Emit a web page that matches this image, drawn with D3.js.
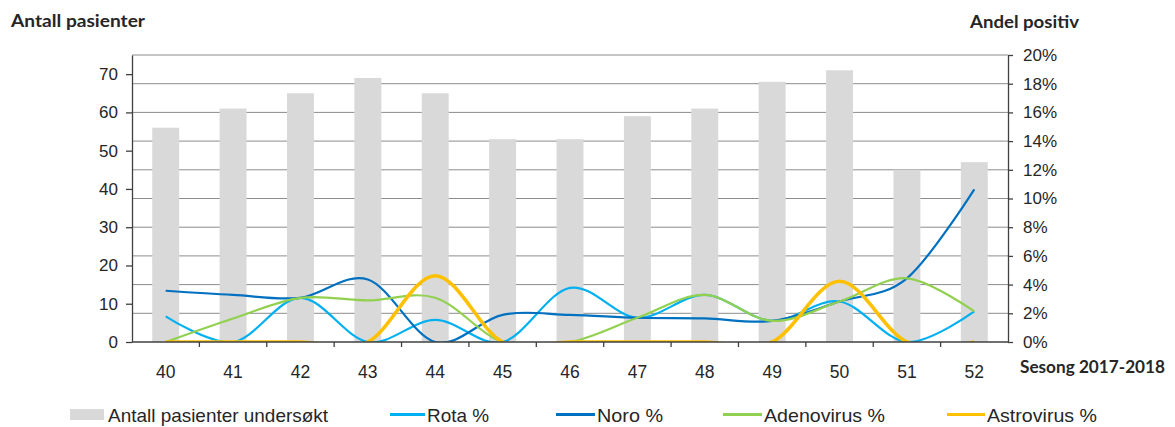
<!DOCTYPE html>
<html>
<head>
<meta charset="utf-8">
<script src="https://cdn.jsdelivr.net/npm/d3@7"></script>
<style>
  body { margin: 0; background: #fff; }
  svg text { font-family: "Liberation Sans", Arial, sans-serif; }
</style>
</head>
<body>
<div id="chart"></div>
<script>
// Data
const weeks = ["40", "41", "42", "43", "44", "45", "46", "47", "48", "49", "50", "51", "52"];
const patients = [56, 61, 65, 69, 65, 53, 53, 59, 61, 68, 71, 45, 47];
const rota = [1.79, 0, 3.08, 0, 1.54, 0, 3.77, 1.69, 3.28, 1.47, 2.82, 0, 2.13];
const noro = [3.57, 3.28, 3.08, 4.35, 0, 1.89, 1.89, 1.69, 1.64, 1.47, 2.82, 4.44, 10.64];
const adeno = [0, 1.64, 3.08, 2.90, 3.08, 0, 0, 1.69, 3.28, 1.47, 2.82, 4.44, 2.13];
const astro = [0, 0, 0, 0, 4.62, 0, 0, 0, 0, 0, 4.23, 0, 0];
const leftTicks = [0, 10, 20, 30, 40, 50, 60, 70];
const rightTicks = [0, 2, 4, 6, 8, 10, 12, 14, 16, 18, 20];

const series = [
    { name: "Rota %", values: rota, color: "#00B0F0", width: 2.2 },
    { name: "Noro %", values: noro, color: "#0070C0", width: 2.2 },
    { name: "Adenovirus %", values: adeno, color: "#92D050", width: 2.2 },
    { name: "Astrovirus %", values: astro, color: "#FFC000", width: 3.6 }
];

const margin = { top: 55, right: 167, bottom: 85, left: 132 };
const totalW = 1175, totalH = 427;
const width = totalW - margin.left - margin.right;
const height = totalH - margin.top - margin.bottom;

const svg = d3.select("#chart").append("svg")
    .attr("width", totalW)
    .attr("height", totalH);

const g = svg.append("g")
    .attr("transform", `translate(${margin.left},${margin.top})`);

const x = d3.scaleBand()
    .domain(weeks)
    .range([0, width])
    .paddingInner(0.6)
    .paddingOuter(0.3);

const yLeft = d3.scaleLinear().domain([0, 75]).range([height, 0]);
const yRight = d3.scaleLinear().domain([0, 20]).range([height, 0]);

// Gridlines (from right axis)
g.selectAll(".grid")
    .data(rightTicks.filter(d => d > 0))
    .enter().append("line")
    .attr("x1", 0).attr("x2", width)
    .attr("y1", d => yRight(d)).attr("y2", d => yRight(d))
    .attr("stroke", "#8c8c8c")
    .attr("stroke-width", 1);

// Bars
g.selectAll(".bar")
    .data(weeks)
    .enter().append("rect")
    .attr("x", d => x(d))
    .attr("y", (d, i) => yLeft(patients[i]))
    .attr("width", x.bandwidth())
    .attr("height", (d, i) => height - yLeft(patients[i]))
    .attr("fill", "#D9D9D9");

// Lines
g.append("clipPath").attr("id", "clip")
    .append("rect").attr("x", 0).attr("y", -5).attr("width", width).attr("height", height + 5);

const line = d3.line()
    .x((d, i) => x(weeks[i]) + x.bandwidth() / 2)
    .y(d => yRight(d))
    .curve(d3.curveCardinal.tension(0));

g.append("g").attr("clip-path", "url(#clip)")
    .selectAll(".line")
    .data(series)
    .enter().append("path")
    .attr("d", d => line(d.values))
    .attr("fill", "none")
    .attr("stroke", d => d.color)
    .attr("stroke-width", d => d.width);

// Axes
const axisColor = "#404040";
const leftAxis = g.append("g")
    .call(d3.axisLeft(yLeft).tickValues(leftTicks).tickSize(6).tickSizeOuter(0).tickPadding(8));
leftAxis.select(".domain").attr("stroke", axisColor).attr("stroke-width", 1.3);
leftAxis.selectAll(".tick line").attr("stroke", axisColor).attr("stroke-width", 1.3);
leftAxis.selectAll("text").style("font-size", "17px").attr("fill", "#262626");

const rightAxis = g.append("g")
    .attr("transform", `translate(${width},0)`)
    .call(d3.axisRight(yRight).tickValues(rightTicks).tickSize(5).tickSizeOuter(0).tickPadding(10)
        .tickFormat(d => d + "%"));
rightAxis.select(".domain").attr("stroke", axisColor).attr("stroke-width", 1.3);
rightAxis.selectAll(".tick line").attr("stroke", axisColor).attr("stroke-width", 1.3);
rightAxis.selectAll("text").style("font-size", "17px").attr("fill", "#262626");

// x axis: labels centered, ticks between categories
const bottomAxis = g.append("g")
    .attr("transform", `translate(0,${height})`)
    .call(d3.axisBottom(x).tickSize(0).tickPadding(24));
bottomAxis.select(".domain").remove();
bottomAxis.selectAll("text").style("font-size", "17.5px").attr("fill", "#262626");

g.append("line")
    .attr("x1", 0).attr("x2", width)
    .attr("y1", height).attr("y2", height)
    .attr("stroke", axisColor).attr("stroke-width", 1.5);

g.selectAll(".xtick")
    .data(weeks.slice(1))
    .enter().append("line")
    .attr("x1", d => x(d) - x.step() * x.paddingInner() / 2)
    .attr("x2", d => x(d) - x.step() * x.paddingInner() / 2)
    .attr("y1", height).attr("y2", height + 5)
    .attr("stroke", axisColor).attr("stroke-width", 1.3);

// Titles
svg.append("text")
    .attr("x", 11).attr("y", 27)
    .style("font-family", "Lato, sans-serif")
    .style("font-weight", "bold")
    .style("font-size", "16.5px")
    .attr("fill", "#262626")
    .attr("textLength", 134).attr("lengthAdjust", "spacingAndGlyphs")
    .text("Antall pasienter");

svg.append("text")
    .attr("x", 970).attr("y", 28)
    .style("font-family", "Lato, sans-serif")
    .style("font-weight", "bold")
    .style("font-size", "16.5px")
    .attr("fill", "#262626")
    .attr("textLength", 109).attr("lengthAdjust", "spacingAndGlyphs")
    .text("Andel positiv");

svg.append("text")
    .attr("x", 1020).attr("y", 373)
    .style("font-family", "Lato, sans-serif")
    .style("font-weight", "bold")
    .style("font-size", "16.5px")
    .attr("fill", "#262626")
    .attr("textLength", 145).attr("lengthAdjust", "spacingAndGlyphs")
    .text("Sesong 2017-2018");

// Legend
const legend = svg.append("g");
legend.append("rect")
    .attr("x", 70).attr("y", 409).attr("width", 34).attr("height", 11)
    .attr("fill", "#D9D9D9");
legend.append("text")
    .attr("x", 108).attr("y", 421.5)
    .style("font-size", "19px").attr("fill", "#262626")
    .attr("textLength", 220).attr("lengthAdjust", "spacingAndGlyphs")
    .text("Antall pasienter undersøkt");

const legendPos = [
    { lx: 390, tx: 427, tw: 62 },
    { lx: 556, tx: 597, tw: 66 },
    { lx: 723, tx: 764, tw: 121 },
    { lx: 947, tx: 987, tw: 110 }
];
series.forEach((s, i) => {
    const p = legendPos[i];
    legend.append("line")
        .attr("x1", p.lx).attr("x2", p.tx - 2)
        .attr("y1", 414.5).attr("y2", 414.5)
        .attr("stroke", s.color).attr("stroke-width", 3);
    legend.append("text")
        .attr("x", p.tx).attr("y", 421.5)
        .style("font-size", "19px").attr("fill", "#262626")
        .attr("textLength", p.tw).attr("lengthAdjust", "spacingAndGlyphs")
        .text(s.name);
});
</script>
</body>
</html>
